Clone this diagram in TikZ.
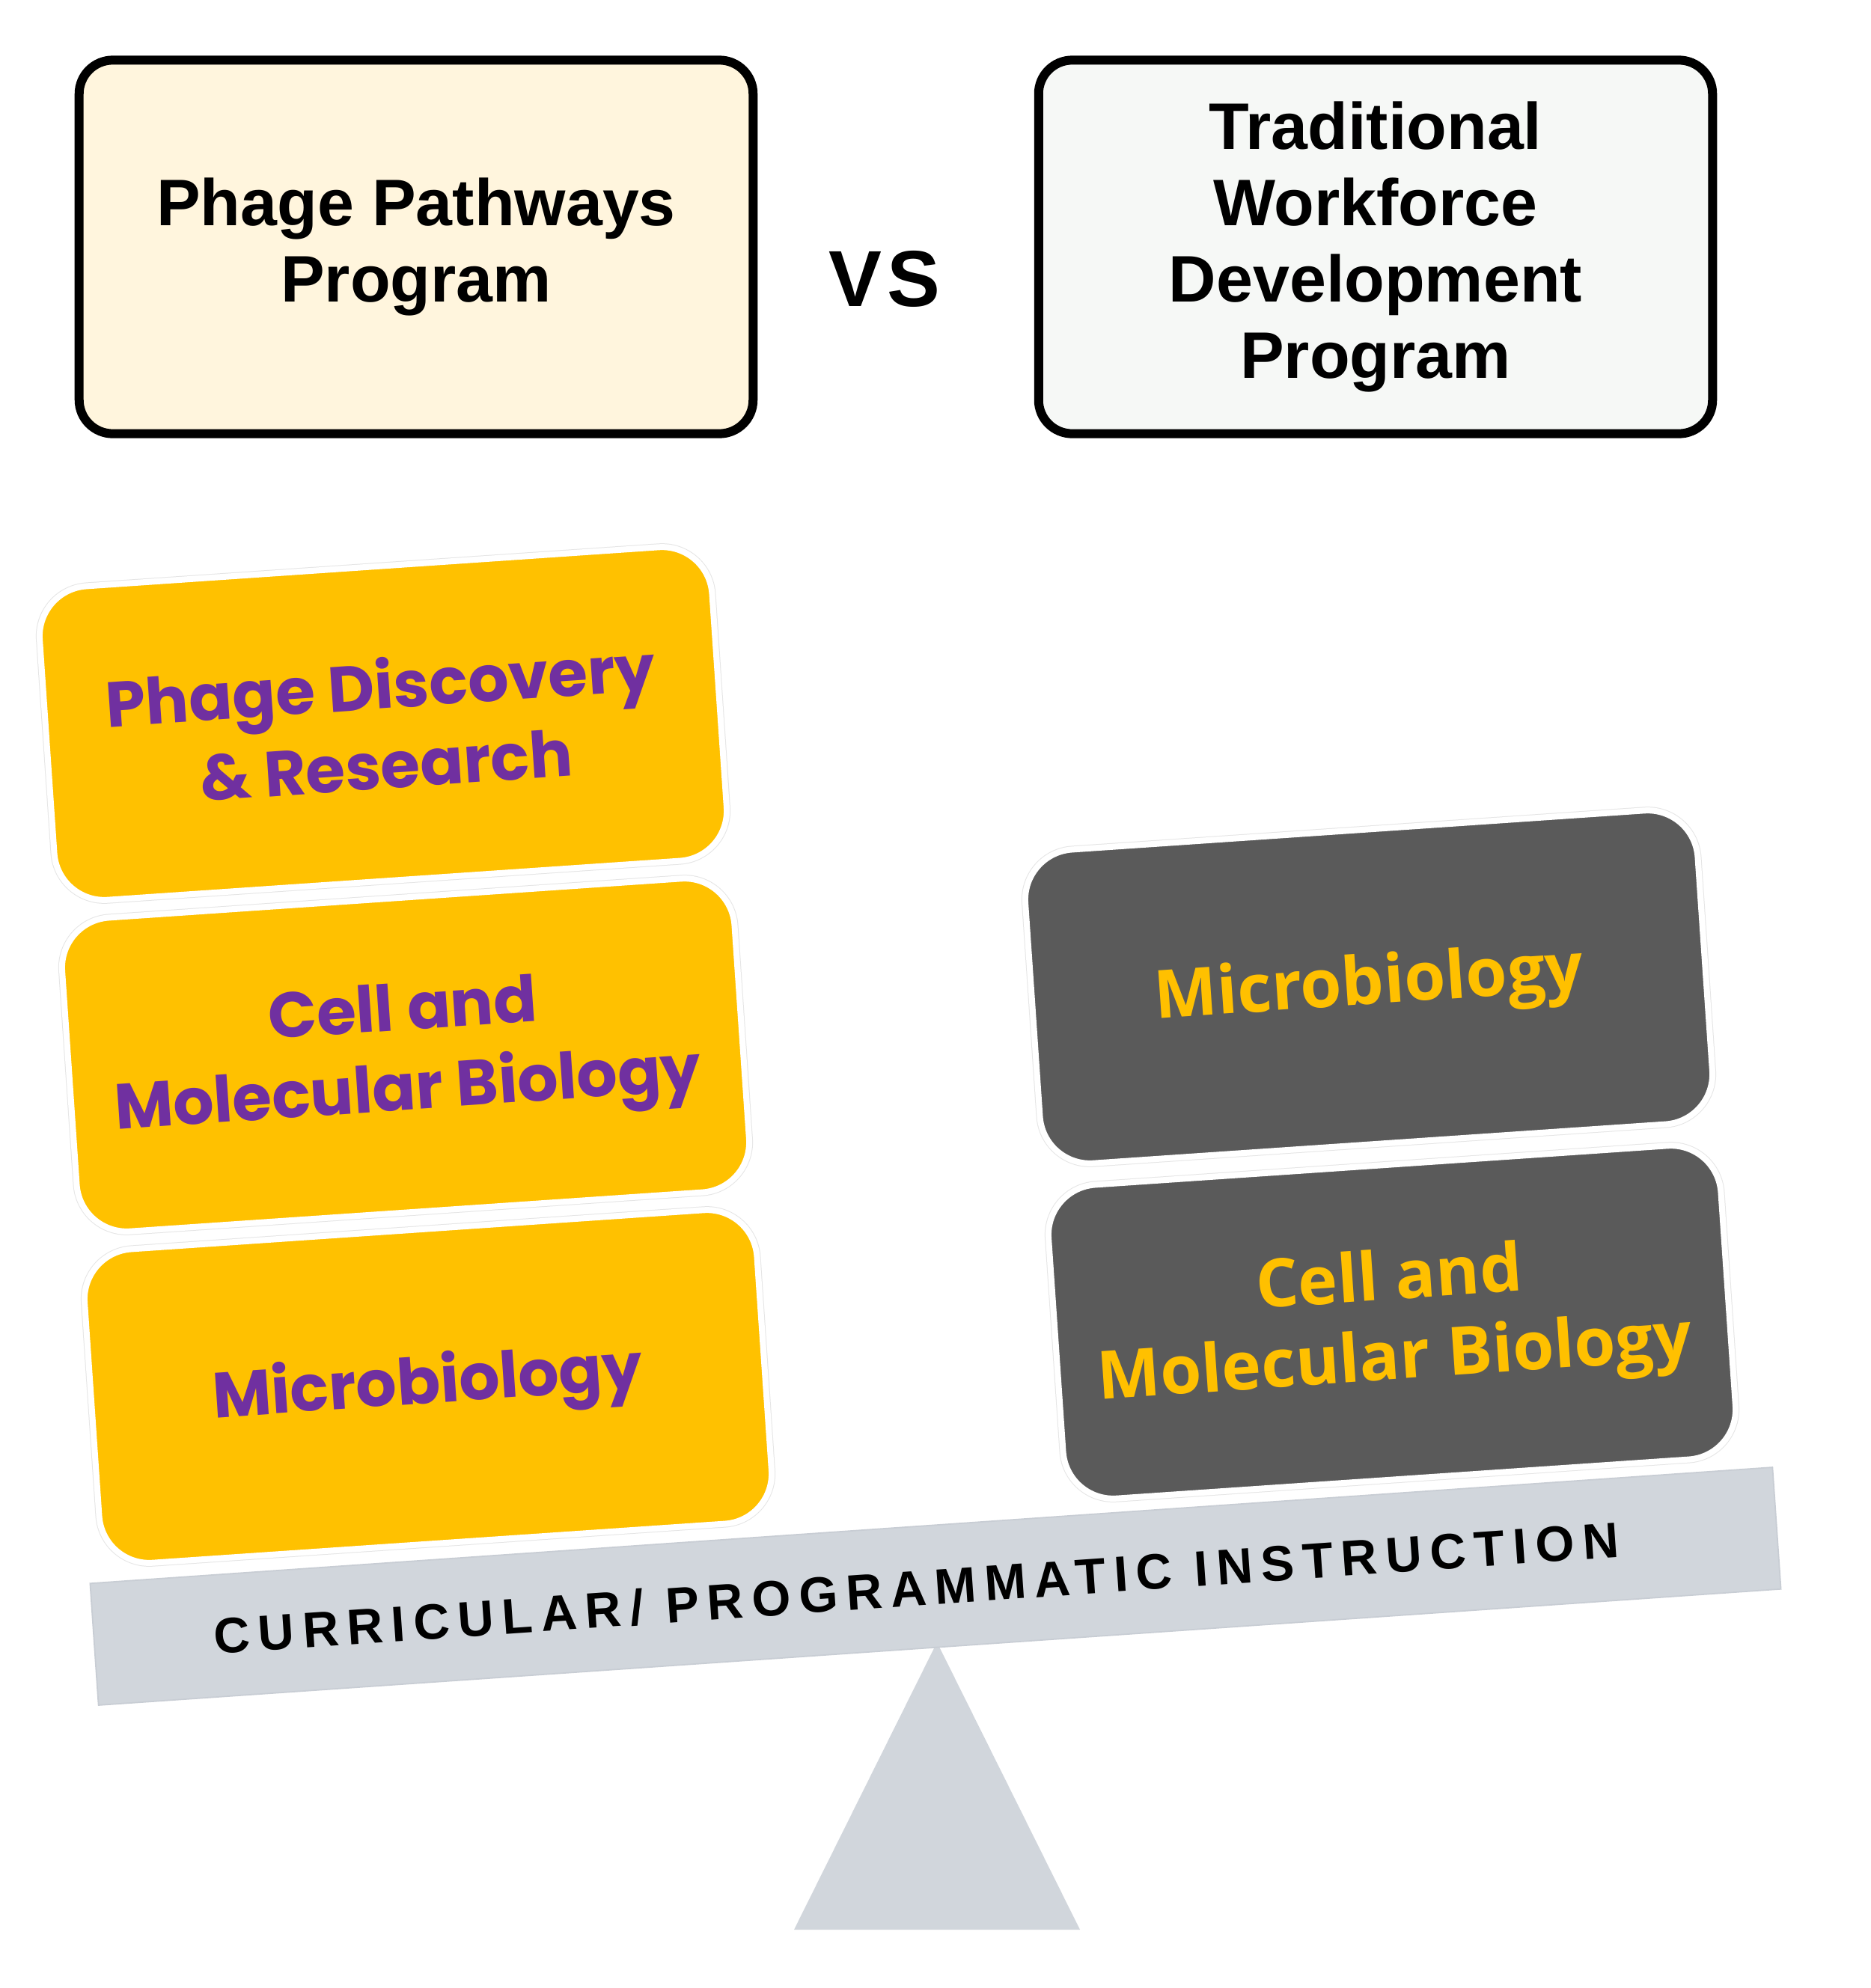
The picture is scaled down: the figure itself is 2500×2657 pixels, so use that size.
\documentclass[tikz,border=0pt]{standalone}
\usepackage{fontspec}
\setmainfont{Liberation Sans}
\newfontfamily\popfont{Poppins}
\newfontfamily\osfont{Open Sans}
\newfontfamily\beamfont{Liberation Sans}[LetterSpace=16.7]
\newfontfamily\vsfont{Liberation Sans}[LetterSpace=6]
\definecolor{creamfill}{HTML}{FFF5DD}
\definecolor{lightfill}{HTML}{F6F8F6}
\definecolor{tileorange}{HTML}{FFC100}
\definecolor{tilepurple}{HTML}{7030A0}
\definecolor{tilegray}{HTML}{5A5A5A}
\definecolor{tileyellow}{HTML}{FFC000}
\definecolor{beamgray}{HTML}{D1D6DC}
\definecolor{beamedge}{HTML}{C8CDD4}
\tikzset{
  titlebox/.style={draw=black, line width=0.12cm, rounded corners=0.45cm,
    minimum width=9.0cm, minimum height=4.99cm, align=center, inner sep=0pt,
    font=\bfseries\fontsize{25}{29}\selectfont},
  tile/.style={rectangle, rounded corners=0.67cm, minimum width=9cm, minimum height=4.2cm,
    draw=white, line width=0.08cm, preaction={draw=black!10, line width=0.1cm},
    align=center, rotate=3.9, inner sep=0pt},
  orangetile/.style={tile, fill=tileorange, text=tilepurple,
    font=\popfont\bfseries\fontsize{24.3}{30.4}\selectfont},
  graytile/.style={tile, fill=tilegray, text=tileyellow,
    font=\osfont\bfseries\fontsize{25.4}{30.4}\selectfont},
}
\begin{document}
\begin{tikzpicture}[x=0.01cm,y=-0.01cm]
\useasboundingbox (0,0) rectangle (2500,2657);
\fill[white] (0,0) rectangle (2500,2657);

% title boxes
\node[titlebox, fill=creamfill] (phage) at (556,330) {Phage Pathways\\Program};
\node[titlebox, fill=lightfill] (trad) at (1838,330) {Traditional\\Workforce\\Development\\Program};
\node[font=\vsfont\bfseries\fontsize{30.2}{36}\selectfont] (vs) at (1182,373) {VS};

% fulcrum
\coordinate (apex) at (1252,2195);
\coordinate (baseL) at (1061,2579);
\coordinate (baseR) at (1443,2579);
\fill[beamgray] (apex) -- (baseR) -- (baseL) -- cycle;

% beam
\node[rectangle, fill=beamgray, draw=beamedge, line width=0.5pt, rotate=3.95,
      minimum width=22.52cm, minimum height=1.63cm, inner sep=0pt] (beam) at (1250,2120) {};
\node[font=\beamfont\bfseries\fontsize{19}{23}\selectfont, rotate=3.95, anchor=base, inner sep=0pt]
  (beamtext) at (1226,2146) {CURRICULAR/ PROGRAMMATIC INSTRUCTION};

% left stack (Phage Pathways)
\node[orangetile] (pdr) at (512,967) {Phage Discovery\\\& Research};
\node[orangetile] (cmbL) at (542,1410) {Cell and\\Molecular Biology};
\node[orangetile] (microL) at (572,1853) {Microbiology};

% right stack (Traditional)
\node[graytile] (microR) at (1829,1319) {Microbiology};
\node[graytile] (cmbR) at (1860,1767) {Cell and\\Molecular Biology};
\end{tikzpicture}
\end{document}
